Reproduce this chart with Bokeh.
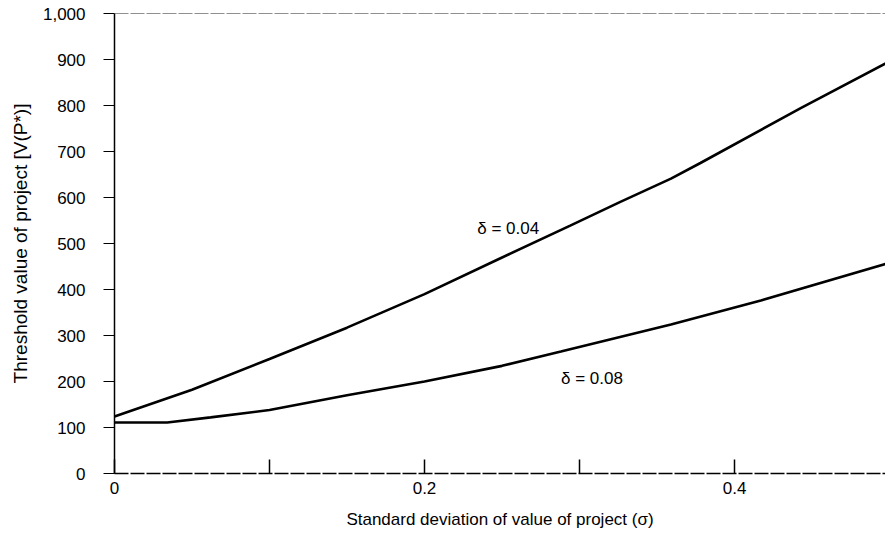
from bokeh.plotting import figure
from bokeh.models import Range1d, LinearAxis, FixedTicker, NumeralTickFormatter, Span, Label
from bokeh.embed import file_html
from bokeh.resources import INLINE

# Threshold project value versus volatility, for two discount rates
sigma_hi = [0.0, 0.05, 0.1, 0.15, 0.2, 0.249, 0.294, 0.326, 0.359, 0.378, 0.443, 0.5]
v_delta_004 = [124, 182, 249, 317, 390, 468, 539, 590, 641, 675, 795, 896]
sigma_lo = [0.0, 0.034, 0.062, 0.1, 0.15, 0.2, 0.25, 0.288, 0.359, 0.417, 0.5]
v_delta_008 = [111, 111, 122, 138, 170, 200, 234, 265, 324, 376, 458]

x_ticks = [0.0, 0.1, 0.2, 0.3, 0.4, 0.5]
x_tick_labels = {0.0: "0", 0.1: "", 0.2: "0.2", 0.3: "", 0.4: "0.4", 0.5: ""}
y_ticks = [0, 100, 200, 300, 400, 500, 600, 700, 800, 900, 1000]

FONT = "Liberation Sans"
FS = "17px"

p = figure(width=885, height=538, output_backend="svg", toolbar_location=None,
           x_axis_type=None, y_axis_type=None,
           x_range=Range1d(0, 0.4974), y_range=Range1d(0, 1000),
           min_border_left=114, min_border_right=0, min_border_top=13, min_border_bottom=65)
p.outline_line_color = None
p.grid.visible = False
p.background_fill_color = "white"
p.border_fill_color = "white"

xaxis = LinearAxis(ticker=FixedTicker(ticks=x_ticks), major_label_overrides=x_tick_labels)
xaxis.axis_label = "Standard deviation of value of project (σ)"
xaxis.major_tick_in = 14
xaxis.major_tick_out = 0
xaxis.minor_tick_line_color = None
xaxis.axis_line_width = 1.5
xaxis.axis_line_dash = "14 2"
xaxis.axis_line_color = "black"
xaxis.major_tick_line_width = 1.5
xaxis.major_tick_line_color = "black"
xaxis.major_label_text_font = FONT
xaxis.major_label_text_font_size = FS
xaxis.major_label_text_color = "black"
xaxis.major_label_standoff = 8
xaxis.axis_label_text_font = FONT
xaxis.axis_label_text_font_size = FS
xaxis.axis_label_text_color = "black"
xaxis.axis_label_text_font_style = "normal"
xaxis.axis_label_standoff = 13
p.add_layout(xaxis, "below")

yaxis = LinearAxis(ticker=FixedTicker(ticks=y_ticks), formatter=NumeralTickFormatter(format="0,0"))
yaxis.axis_label = "Threshold value of project [V(P*)]"
yaxis.major_tick_in = 0
yaxis.major_tick_out = 11
yaxis.minor_tick_line_color = None
yaxis.axis_line_width = 1.5
yaxis.axis_line_color = "black"
yaxis.major_tick_line_width = 1.2
yaxis.major_tick_line_color = "black"
yaxis.major_label_text_font = FONT
yaxis.major_label_text_font_size = FS
yaxis.major_label_text_color = "black"
yaxis.major_label_standoff = 18
yaxis.axis_label_text_font = FONT
yaxis.axis_label_text_font_size = "19px"
yaxis.axis_label_text_color = "black"
yaxis.axis_label_text_font_style = "normal"
yaxis.axis_label_standoff = 9
p.add_layout(yaxis, "left")

# top rule of the frame
p.add_layout(Span(location=1000, dimension="width", line_color="#222222",
                  line_width=1.2, line_dash="14 2"))

p.line(sigma_hi, v_delta_004, line_color="black", line_width=2.6)
p.line(sigma_lo, v_delta_008, line_color="black", line_width=2.6)

p.add_layout(Label(x=0.254, y=533, text="δ = 0.04", text_font=FONT, text_font_size=FS,
                   text_align="center", text_baseline="middle", text_color="black"))
p.add_layout(Label(x=0.308, y=206, text="δ = 0.08", text_font=FONT, text_font_size=FS,
                   text_align="center", text_baseline="middle", text_color="black"))

open("out.html", "w").write(file_html(p, INLINE))
